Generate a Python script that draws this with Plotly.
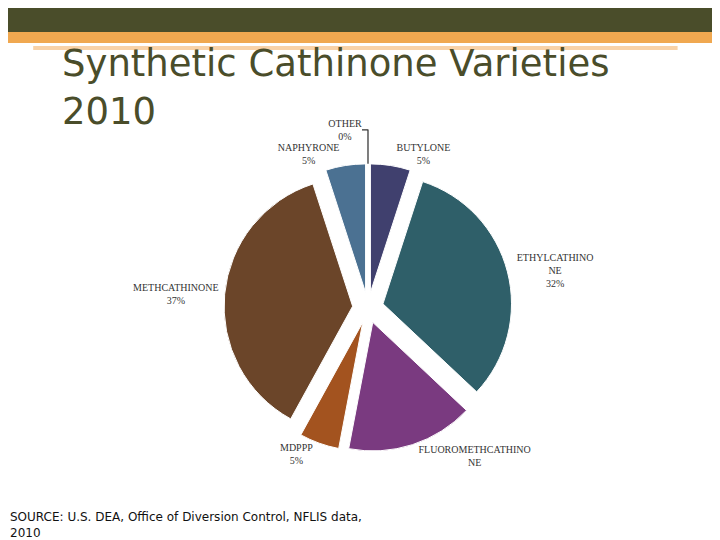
import plotly.graph_objects as go

labels = ["BUTYLONE", "ETHYLCATHINO<br>NE", "FLUOROMETHCATHINO<br>NE", "MDPPP",
          "METHCATHINONE", "NAPHYRONE", "OTHER"]
values = [5, 32, 16, 5, 37, 5, 0.001]
pct_text = ["5%", "32%", "", "5%", "37%", "5%", "0%"]
colors = ["#40406e", "#2f5f69", "#7a3a80", "#a3531f", "#6b4529", "#4b7192", "#888888"]

fig = go.Figure(go.Pie(
    labels=labels, values=values, text=pct_text,
    sort=False, direction="clockwise", rotation=0,
    marker=dict(colors=colors, line=dict(color="white", width=1)),
    pull=[0.12] * 7,
    texttemplate="%{label}<br>%{text}", textposition="outside",
    textfont=dict(family="Liberation Serif", size=10, color="#333333"),
    domain=dict(x=[0.3, 0.7], y=[0.17, 0.72]),
    showlegend=False, hoverinfo="label+percent",
))

shapes = [
    dict(type="rect", xref="paper", yref="paper", x0=0, x1=1, y0=1 - 24 / 540, y1=1,
         fillcolor="#4a4d2a", line_width=0, layer="above"),
    dict(type="rect", xref="paper", yref="paper", x0=0, x1=1, y0=1 - 35 / 540, y1=1 - 24 / 540,
         fillcolor="#f0a850", line_width=0),
    dict(type="rect", xref="paper", yref="paper", x0=0.035, x1=0.93, y0=1 - 42 / 540, y1=1 - 38 / 540,
         fillcolor="#f8d2a8", line_width=0),
]

fig.update_layout(
    width=720, height=540, margin=dict(l=0, r=0, t=0, b=0),
    paper_bgcolor="white", plot_bgcolor="white", shapes=shapes,
    annotations=[
        dict(text="Synthetic Cathinone Varieties<br>2010", xref="paper", yref="paper",
             x=52 / 720, y=1 - 32 / 540, xanchor="left", yanchor="top", align="left",
             showarrow=False, font=dict(family="DejaVu Sans", size=37, color="#4a4d2a")),
        dict(text="SOURCE: U.S. DEA, Office of Diversion Control, NFLIS data,<br>2010",
             xref="paper", yref="paper", x=0, y=1 - 500 / 540, xanchor="left",
             yanchor="top", align="left", showarrow=False,
             font=dict(family="DejaVu Sans", size=12, color="#111111")),
    ],
)

fig.write_html("out.html")
